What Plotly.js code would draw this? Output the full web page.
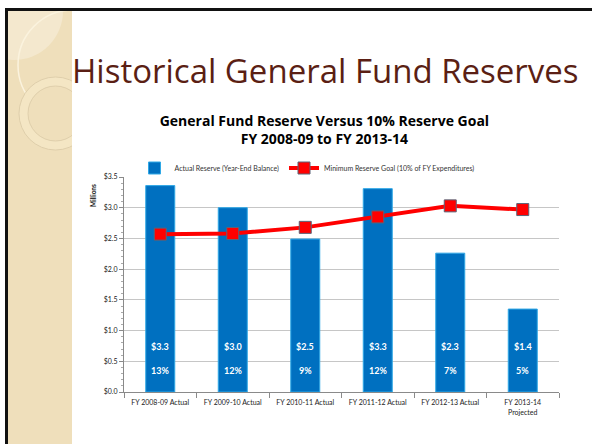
<!DOCTYPE html>
<html><head><meta charset="utf-8">
<script src="https://cdn.plot.ly/plotly-3.0.1.min.js"></script>
<style>html,body{margin:0;padding:0;background:#fff}#chart{width:592px;height:444px}</style>
</head><body><div id="chart"></div>
<script>
// ---- data ----
const categories = ['FY 2008-09 Actual','FY 2009-10 Actual','FY 2010-11 Actual','FY 2011-12 Actual','FY 2012-13 Actual','FY 2013-14<br>Projected'];
const actualReserve = [3.36, 3.00, 2.49, 3.31, 2.26, 1.35];
const minimumGoal = [2.57, 2.58, 2.68, 2.85, 3.03, 2.97];
const reserveLabels = ['$3.3','$3.0','$2.5','$3.3','$2.3','$1.4'];
const percentLabels = ['13%','12%','9%','12%','7%','5%'];
const seriesNames = ['Actual Reserve (Year-End Balance)','Minimum Reserve Goal (10% of FY Expenditures)'];

// ---- geometry helpers (pixel -> paper) ----
const W = 592, H = 444, L = 124, R = 559, T = 177, B = 392;
const px = x => (x - L) / (R - L);
const py = y => (B - y) / (B - T);

const traces = [
  {type:'bar', name:seriesNames[0], x:categories, y:actualReserve, width:0.4,
   marker:{color:'#0070C0', line:{color:'#2FA8E6', width:1}}, hoverinfo:'skip'},
  {type:'scatter', mode:'lines+markers', name:seriesNames[1], x:categories, y:minimumGoal,
   line:{color:'#FF0000', width:4},
   marker:{symbol:'square', size:12, color:'#FF0000', line:{color:'#5A6478', width:1}}, hoverinfo:'skip'}
];

const annotations = [];
categories.forEach((c,i)=>{
  annotations.push({x:c, y:0.74, xref:'x', yref:'y', text:'<b>'+reserveLabels[i]+'</b>', showarrow:false,
    font:{family:'Lato', size:9, color:'#ffffff'}});
  annotations.push({x:c, y:0.35, xref:'x', yref:'y', text:'<b>'+percentLabels[i]+'</b>', showarrow:false,
    font:{family:'Lato', size:9, color:'#ffffff'}});
});
annotations.push({xref:'paper', yref:'paper', x:px(70), y:py(70), xanchor:'left', yanchor:'middle',
  text:'Historical General Fund Reserves', showarrow:false,
  font:{family:'Open Sans', size:33, color:'#5B1F14'}});
annotations.push({xref:'paper', yref:'paper', x:px(93), y:py(196), xanchor:'center', yanchor:'middle',
  text:'<b>Millions</b>', textangle:-90, showarrow:false,
  font:{family:'Lato', size:6.5, color:'#111'}});

const band = '#EFDFBB';
const shapes = [
  {type:'rect', xref:'paper', yref:'paper', x0:px(8), x1:px(72), y0:py(11), y1:py(444), fillcolor:band, line:{width:0}, layer:'below'},
  {type:'circle', xref:'paper', yref:'paper', x0:px(-35), x1:px(63), y0:py(-38), y1:py(60), fillcolor:'#F4E8CE', line:{width:0}, layer:'below'},
  {type:'circle', xref:'paper', yref:'paper', x0:px(18), x1:px(128), y0:py(10), y1:py(120), fillcolor:'rgba(0,0,0,0)', line:{color:'#FBF3DE', width:1.5}, layer:'below'},
  {type:'circle', xref:'paper', yref:'paper', x0:px(19), x1:px(92), y0:py(77), y1:py(150), fillcolor:'#F4E6C4', line:{color:'#D9C9A6', width:0.8}, layer:'below'},
  {type:'circle', xref:'paper', yref:'paper', x0:px(28), x1:px(83), y0:py(86), y1:py(141), fillcolor:band, line:{color:'#D9C9A6', width:0.8}, layer:'below'},
  // white covers outside the band
  {type:'rect', xref:'paper', yref:'paper', x0:px(72), x1:px(600), y0:py(11), y1:py(450), fillcolor:'#ffffff', line:{width:0}, layer:'below'},
  {type:'rect', xref:'paper', yref:'paper', x0:px(-10), x1:px(600), y0:py(-10), y1:py(8), fillcolor:'#ffffff', line:{width:0}, layer:'below'},
  {type:'rect', xref:'paper', yref:'paper', x0:px(-10), x1:px(5), y0:py(-10), y1:py(450), fillcolor:'#ffffff', line:{width:0}, layer:'below'},
  // black frame
  {type:'rect', xref:'paper', yref:'paper', x0:px(5), x1:px(600), y0:py(8), y1:py(11), fillcolor:'#111', line:{width:0}, layer:'below'},
  {type:'rect', xref:'paper', yref:'paper', x0:px(5), x1:px(8), y0:py(8), y1:py(450), fillcolor:'#111', line:{width:0}, layer:'below'}
];

const layout = {
  width:W, height:H,
  margin:{l:L, r:W-R, t:T, b:H-B, pad:0},
  paper_bgcolor:'#ffffff', plot_bgcolor:'rgba(0,0,0,0)',
  font:{family:'Lato', color:'#222'},
  title:{text:'General Fund Reserve Versus 10% Reserve Goal<br>FY 2008-09 to FY 2013-14',
    xref:'container', yref:'container', x:0.548, xanchor:'center', y:1-126/H, yanchor:'top',
    font:{family:'Open Sans', size:14, weight:'bold', color:'#000'}},
  showlegend:true,
  legend:{orientation:'h', x:px(307), xanchor:'center', y:py(168), yanchor:'middle',
    font:{family:'Lato', size:7, color:'#333'}, bgcolor:'rgba(0,0,0,0)', traceorder:'normal', itemwidth:30},
  xaxis:{type:'category', showline:true, linecolor:'#8a8a8a', linewidth:1, ticks:'outside', tickson:'boundaries',
    ticklen:5, tickcolor:'#8a8a8a', ticklabelstandoff:4, tickfont:{family:'Lato', size:7, color:'#222'}, showgrid:false, fixedrange:true},
  yaxis:{range:[0,3.5], tickmode:'linear', tick0:0, dtick:0.5, tickprefix:'$', tickformat:'.1f',
    showline:true, linecolor:'#8a8a8a', linewidth:1, ticks:'outside', ticklen:4, tickcolor:'#8a8a8a',
    gridcolor:'#c6c6c6', gridwidth:1, zeroline:false,
    minor:{ticks:'outside', ticklen:2, dtick:0.1, tickcolor:'#aaaaaa', showgrid:false},
    tickfont:{family:'Lato', size:7, color:'#222'}, fixedrange:true},
  annotations:annotations,
  shapes:shapes
};

Plotly.newPlot('chart', traces, layout, {staticPlot:true, displayModeBar:false});
</script>
</body></html>
